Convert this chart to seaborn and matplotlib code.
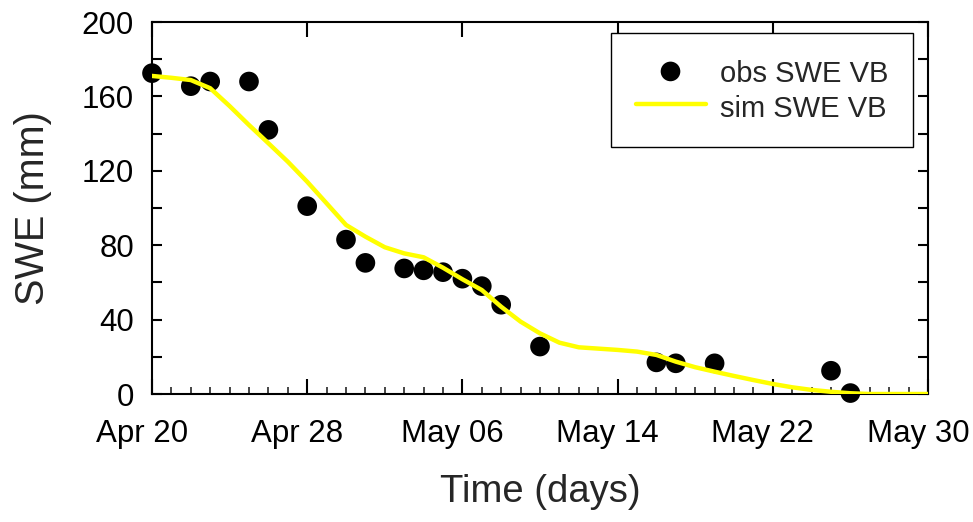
import numpy as np
import pandas as pd
import matplotlib
matplotlib.use("Agg")
import matplotlib.pyplot as plt
import matplotlib.dates as mdates
import matplotlib.transforms as mtransforms
import seaborn as sns

# ---- data ----
start_date = "2010-04-20"
obs_day = [0, 2, 3, 5, 6, 8, 10, 11, 13, 14, 15, 16, 17, 18, 20, 26, 27, 29, 35, 36]
obs_swe = [172.5, 165.5, 168, 168, 142, 101, 83, 70.5, 67.5, 66.5, 65.5, 62, 58, 48, 25.5, 17, 16.5, 16.5, 12.5, 0.5]

sim_day = list(range(0, 41))
sim_swe = [171, 170, 168.8, 164.4, 154.8, 144.6, 134.8, 124.9, 114.1, 102.5,
           90.9, 84.6, 78.9, 75.6, 73.5, 67.9, 61.7, 55.9, 46.9, 38.9,
           32.6, 27.6, 25.1, 24.4, 23.7, 22.8, 21.0, 17.4, 14.4, 12.0,
           9.7, 7.5, 5.4, 3.6, 2.2, 1.2, 0.4, 0.0, 0.0, 0.0, 0.0]

x_ticks_days = [0, 8, 16, 24, 32, 40]
y_ticks = [0, 40, 80, 120, 160, 200]

t0 = pd.Timestamp(start_date)
obs = pd.DataFrame({"date": t0 + pd.to_timedelta(obs_day, unit="D"), "swe": obs_swe})
sim = pd.DataFrame({"date": t0 + pd.to_timedelta(sim_day, unit="D"), "swe": sim_swe})

sns.set_style("ticks")
plt.rcParams["font.family"] = ["Liberation Sans", "DejaVu Sans"]

fig = plt.figure(figsize=(9.73, 5.22), dpi=100)
ax = fig.add_axes([152/973, 1 - 394/522, (928-152)/973, (394-22)/522])

sns.lineplot(data=sim, x="date", y="swe", ax=ax, color="#FFFF00", linewidth=3.2,
             label="sim SWE VB", zorder=3)
sns.scatterplot(data=obs, x="date", y="swe", ax=ax, color="black", s=200,
                edgecolor="none", label="obs SWE VB", zorder=2, clip_on=False)

ax.set_xlim(t0, t0 + pd.Timedelta(days=40))
ax.set_ylim(0, 200)
ax.set_xticks([t0 + pd.Timedelta(days=d) for d in x_ticks_days])
ax.xaxis.set_major_formatter(mdates.DateFormatter("%b %d"))
ax.xaxis.set_minor_locator(mdates.DayLocator())
ax.set_yticks(y_ticks)
ax.set_yticks(np.arange(20, 200, 40), minor=True)

for sp in ax.spines.values():
    sp.set_linewidth(1.5)
    sp.set_color("black")
    sp.set_visible(True)

ax.tick_params(axis="x", which="major", direction="in", length=11, width=1.5,
               labelsize=22.5, pad=18, top=True, colors="black")
ax.tick_params(axis="x", which="minor", direction="in", length=5, width=1.2,
               top=False, bottom=True)
ax.tick_params(axis="y", which="both", direction="in", length=7, width=1.5,
               right=True, labelsize=22.5, pad=13, colors="black")

# shift x tick labels slightly left as in the reference
offset = mtransforms.ScaledTranslation(-0.10, 0, fig.dpi_scale_trans)
for lbl in ax.get_xticklabels():
    lbl.set_transform(lbl.get_transform() + offset)

ax.set_xlabel("Time (days)", fontsize=27.5)
ax.set_ylabel("SWE (mm)", fontsize=28.5)
ax.xaxis.set_label_coords(0.5, -0.214)
ax.yaxis.set_label_coords(-0.129, 0.5)

handles, labels = ax.get_legend_handles_labels()
order = [labels.index("obs SWE VB"), labels.index("sim SWE VB")]
leg = ax.legend([handles[i] for i in order], [labels[i] for i in order],
                loc="upper right", bbox_to_anchor=(0.981, 0.970), borderaxespad=0,
                fontsize=21, frameon=True, fancybox=False, edgecolor="black",
                framealpha=1, handlelength=2.4, handletextpad=0.5,
                handleheight=1.14, labelspacing=0.14, borderpad=0.85,
                markerscale=1.0)
leg.get_frame().set_linewidth(1.0)

fig.savefig("out.png", dpi=100)
